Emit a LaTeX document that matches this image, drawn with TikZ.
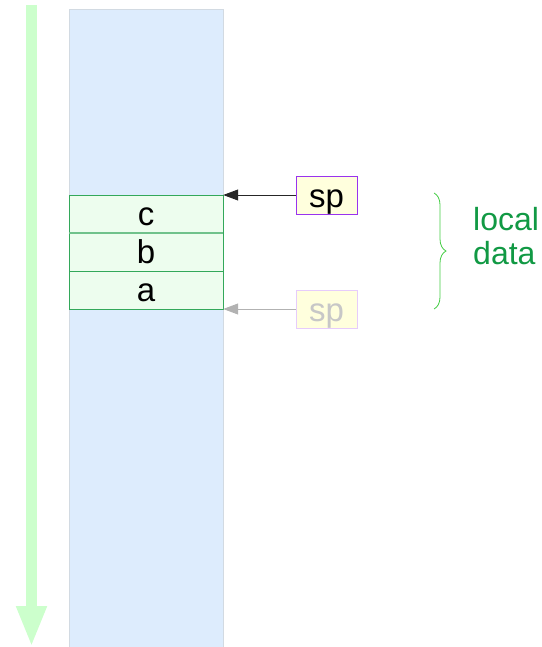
\documentclass[tikz,border=0pt]{standalone}
\usepackage{fontspec}
\setmainfont{Liberation Sans}
\usepackage{tikz}
\usetikzlibrary{arrows.meta, positioning, decorations.pathreplacing}
\definecolor{flowgreen}{HTML}{CCFFCC}
\definecolor{stackblue}{HTML}{DDECFD}
\definecolor{stackedge}{HTML}{D2DAE2}
\definecolor{cellfill}{HTML}{EDFDEE}
\definecolor{celledge}{HTML}{33A85A}
\definecolor{spfill}{HTML}{FFFFDD}
\definecolor{spedge}{HTML}{9933EE}
\definecolor{bracegreen}{HTML}{44CC44}
\definecolor{labelgreen}{HTML}{119944}

\begin{document}
\begin{tikzpicture}[
    x=1pt, y=-1pt,
    cell/.style={draw=celledge, fill=cellfill, minimum width=154pt, minimum height=38pt, inner sep=0pt, text height=30pt, text depth=8pt, font=\fontsize{33}{33}\selectfont},
    spbox/.style={draw=spedge, fill=spfill, minimum width=61pt, minimum height=38pt, inner sep=0pt, text height=31.5pt, text depth=6.5pt, font=\fontsize{33}{33}\selectfont},
    ptr/.style={-{Triangle[length=15pt, width=11pt]}, line width=1pt},
]
\useasboundingbox (0,0) rectangle (541,647);

% growth direction
\coordinate (top) at (31.5,5);
\coordinate (bot) at (31.5,647);
\draw[flowgreen, line width=11pt, -{Triangle[length=41pt, width=28pt]}] (top) -- (bot);

% stack area
\node[draw=stackedge, fill=stackblue, minimum width=154pt, minimum height=638pt, inner sep=0pt] (stack) at (146,328) {};

% frame cells
\node[cell] (c) at (146,214) {c};
\node[cell] (b) at (146,252) {b};
\node[cell] (a) at (146,290) {a};
\draw[celledge!70!white, line width=1.6pt] (c.south west) -- (c.south east);

% stack pointers
\node[spbox] (sp) at (326.5,195) {sp};
\node[spbox, draw=spedge!25!white, text=black!22] (oldsp) at (326.5,309) {sp};
\draw[ptr, black!85] (sp.west) -- (sp.west -| c.east);
\draw[ptr, black!30] (oldsp.west) -- (oldsp.west -| a.east);

% local data brace
\coordinate (bt) at (434,193);
\coordinate (bb) at (434,309);
\draw[bracegreen, line width=0.8pt, decorate, decoration={brace, amplitude=12pt}] (bt) -- (bb);
\node[anchor=west, align=left, inner sep=0pt, text=labelgreen, font=\fontsize{32}{34}\selectfont] (local) at (473,236.5) {local\\data};

\end{tikzpicture}
\end{document}
